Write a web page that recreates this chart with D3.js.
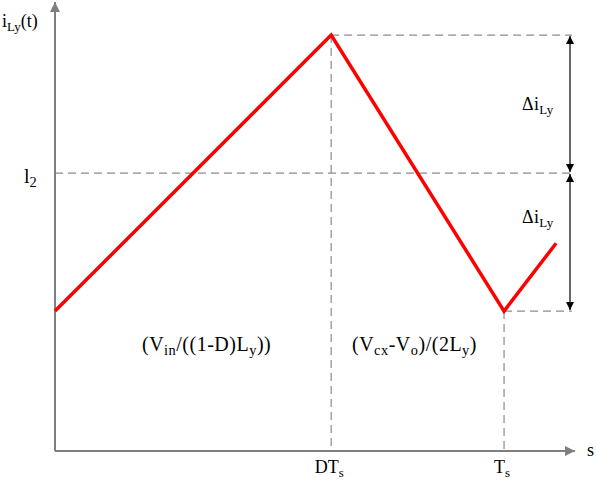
<!DOCTYPE html>
<html><head><meta charset="utf-8">
<script src="https://cdn.jsdelivr.net/npm/d3@7"></script>
<style>body{margin:0;background:#fff}</style>
</head><body>
<svg id="c" width="596" height="485" font-family="'Liberation Serif', 'Times New Roman', Times, serif"></svg>
<script>
// time points (t / Ts) and current values (normalised, valley = 1)
const tPoints = [0, 0.615, 1, 1.116];
const iPoints = [1, 2, 1, 1.246];
const levels = {peak: 2, i2: 1.5, valley: 1};
const xTicks = [{t: 0.615, main: "DT", sub: "s"}, {t: 1, main: "T", sub: "s"}];

const FONT = "'Liberation Serif', 'Times New Roman', Times, serif";
const svg = d3.select("#c");
const x = d3.scaleLinear().domain([0, 1.158]).range([55, 575]);
const y = d3.scaleLinear().domain([0.493, 2.12]).range([451, 2]);

const axisCol = "#7f7f7f", dashCol = "#8c8c8c";
const defs = svg.append("defs");
defs.append("marker").attr("id","ah").attr("viewBox","0 0 10 10").attr("refX",10).attr("refY",5)
  .attr("markerWidth",18).attr("markerHeight",10).attr("markerUnits","userSpaceOnUse").attr("orient","auto")
  .append("path").attr("d","M0,0L10,5L0,10Z").attr("fill",axisCol);
defs.append("marker").attr("id","bh").attr("viewBox","0 0 10 10").attr("refX",10).attr("refY",5)
  .attr("markerWidth",12).attr("markerHeight",8).attr("markerUnits","userSpaceOnUse").attr("orient","auto-start-reverse")
  .append("path").attr("d","M0,0L10,5L0,10Z").attr("fill","#000");

// dashed guides
const dash = (x1,y1,x2,y2) => svg.append("line").attr("x1",x1).attr("y1",y1).attr("x2",x2).attr("y2",y2)
  .attr("stroke",dashCol).attr("stroke-width",1.2).attr("stroke-dasharray","8,5");
dash(x(tPoints[1]), y(levels.peak), 572, y(levels.peak));
dash(x(0), y(levels.i2), 572, y(levels.i2));
dash(x(tPoints[2]), y(levels.valley), 572, y(levels.valley));
dash(x(tPoints[1]), y(levels.peak), x(tPoints[1]), y.range()[0]);
dash(x(tPoints[2]), y(levels.valley), x(tPoints[2]), y.range()[0]);

// axes
svg.append("line").attr("x1",x(0)).attr("y1",y.range()[0]).attr("x2",x(0)).attr("y2",2)
  .attr("stroke",axisCol).attr("stroke-width",2).attr("marker-end","url(#ah)");
svg.append("line").attr("x1",x(0)).attr("y1",y.range()[0]).attr("x2",575).attr("y2",y.range()[0])
  .attr("stroke",axisCol).attr("stroke-width",2).attr("marker-end","url(#ah)");

// current waveform
const line = d3.line().x((d,i)=>x(tPoints[i])).y(d=>y(d));
svg.append("path").datum(iPoints).attr("d",line).attr("fill","none")
  .attr("stroke","#ff0000").attr("stroke-width",3.5).attr("stroke-linejoin","miter");

// double arrows
const dbl = (v1,v2) => svg.append("line").attr("x1",570).attr("x2",570).attr("y1",y(v1)+1).attr("y2",y(v2)-1)
  .attr("stroke","#000").attr("stroke-width",1.2).attr("marker-start","url(#bh)").attr("marker-end","url(#bh)");
dbl(levels.peak, levels.i2);
dbl(levels.i2, levels.valley);

// text helper
function label(xp, yp, parts, anchor, size, ls) {
  size = size || 18;
  const t = svg.append("text").attr("x",xp).attr("y",yp).attr("font-size",size)
    .attr("font-family",FONT).attr("fill","#000").attr("text-anchor",anchor||"start");
  if (ls) t.attr("letter-spacing", ls);
  parts.forEach(p => {
    if (p.sub) t.append("tspan").attr("font-size",size*0.72).attr("dy",4).text(p.sub);
    else t.append("tspan").attr("dy", p.after ? -4 : 0).text(p.t);
  });
  return t;
}
label(2, 27, [{t:"i"},{sub:"Ly"},{t:"(t)",after:1}]);
label(24, 183, [{t:"l"},{sub:"2"}], "start", 20);
label(522, 110, [{t:"Δi"},{sub:"Ly"}], "start", 18, 0.3);
label(522, 223, [{t:"Δi"},{sub:"Ly"}], "start", 18, 0.3);
label(142, 351, [{t:"(V"},{sub:"in"},{t:"/((1-D)L",after:1},{sub:"y"},{t:"))",after:1}], "start", 20, 0.5);
label(352, 351, [{t:"(V"},{sub:"cx"},{t:"-V",after:1},{sub:"o"},{t:")/(2L",after:1},{sub:"y"},{t:")",after:1}], "start", 20, 0.5);
xTicks.forEach(d => label(x(d.t)-2, 473, [{t:d.main},{sub:d.sub}], "middle", 18));
label(587, 456, [{t:"s"}], "start", 18);
</script>
</body></html>
